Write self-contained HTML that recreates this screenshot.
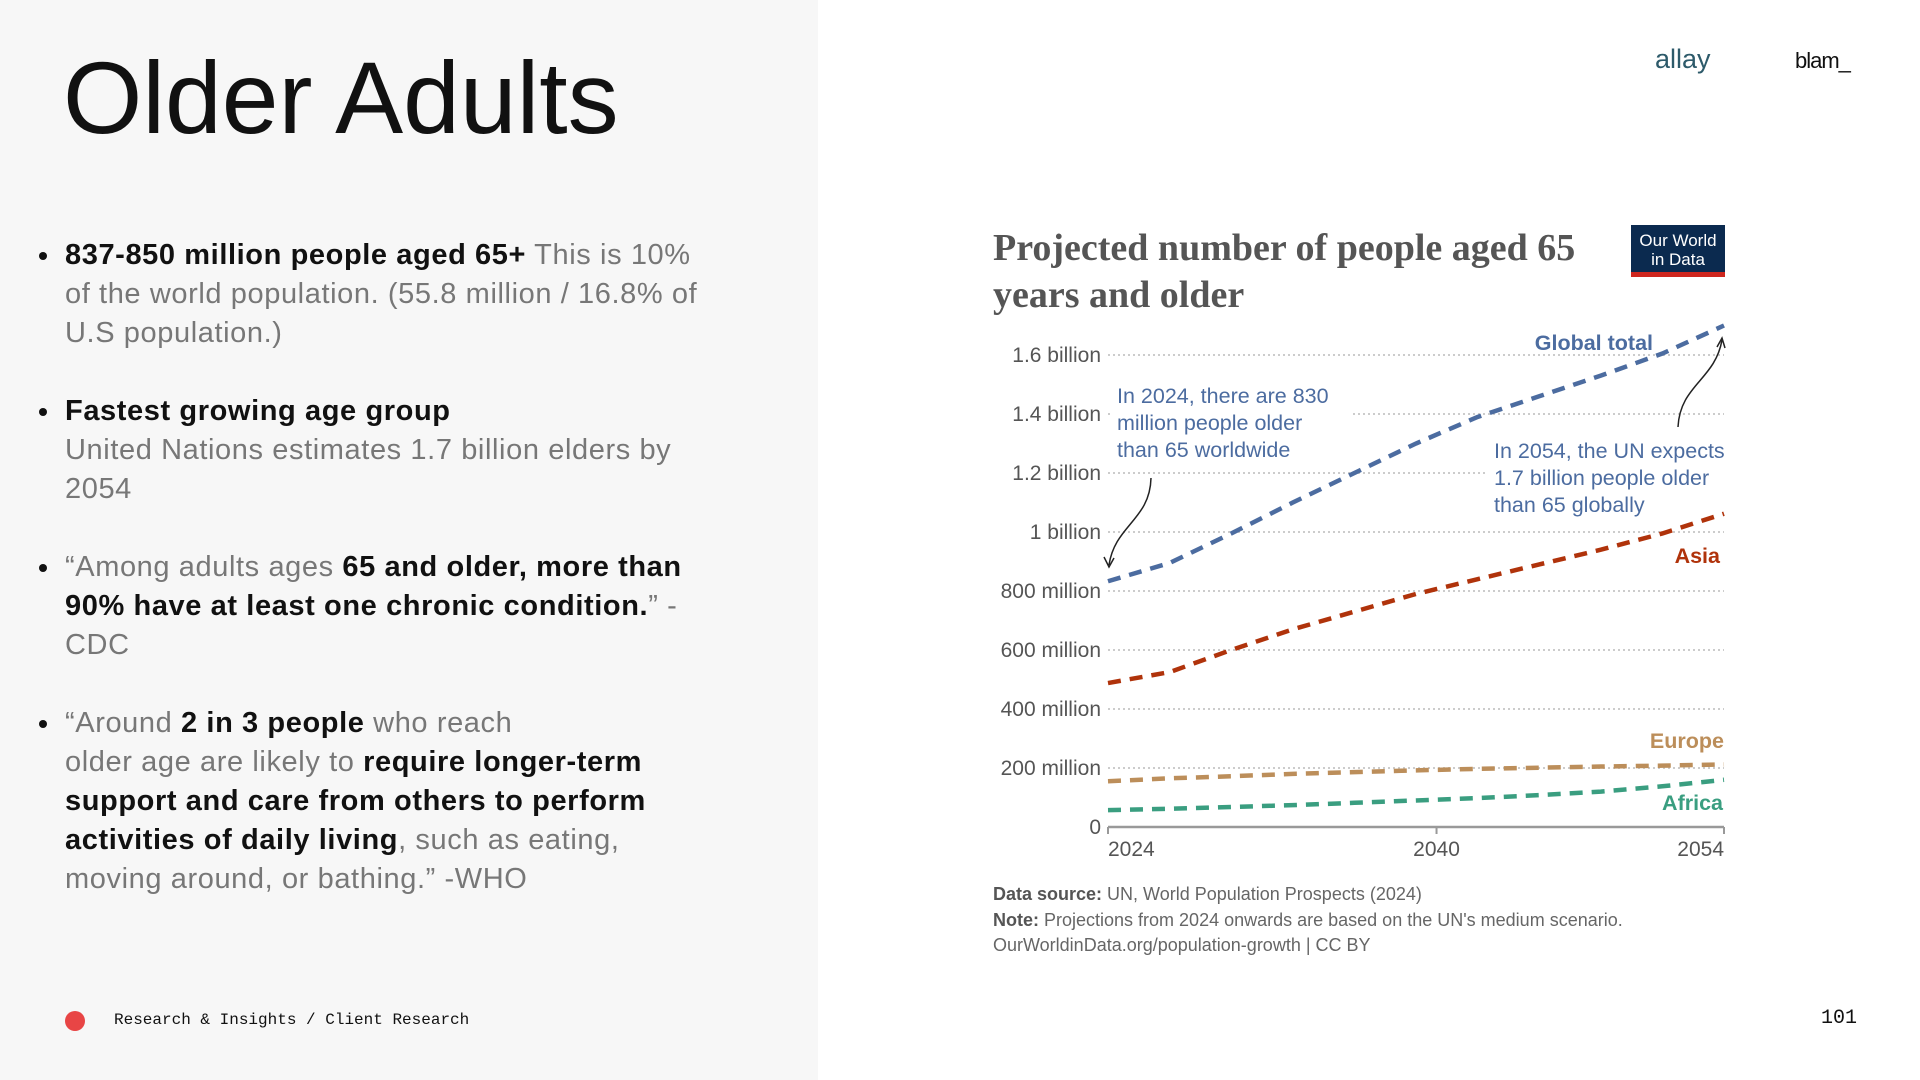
<!DOCTYPE html>
<html><head><meta charset="utf-8">
<style>
body{margin:0;width:1920px;height:1080px;overflow:hidden;background:#fff;font-family:"Liberation Sans",sans-serif;position:relative}
.left{position:absolute;left:0;top:0;width:818px;height:1080px;background:#f7f7f7}
h1{position:absolute;left:63px;top:40px;margin:0;font-size:102px;font-weight:400;color:#111;letter-spacing:0px}
ul{position:absolute;left:65px;top:236px;margin:0;padding:0;list-style:none;width:760px}
li{position:relative;font-size:29px;line-height:39px;color:#777;margin-bottom:39px;letter-spacing:0.6px;white-space:nowrap}
li:before{content:"";position:absolute;left:-26px;top:16px;width:8px;height:8px;border-radius:50%;background:#111}
b{color:#111}
.foot{position:absolute;left:114px;top:1011px;font-family:"Liberation Mono",monospace;font-size:16px;color:#111}
.dot{position:absolute;left:65px;top:1011px;width:20px;height:20px;border-radius:50%;background:#e84545}
.notes{position:absolute;left:993px;top:882px;font-size:18px;line-height:25.5px;color:#666}
</style></head><body>
<div class="left"></div>
<h1>Older Adults</h1>
<ul>
<li><b>837-850 million people aged 65+</b> This is 10%<br>of the world population. (55.8 million / 16.8% of<br>U.S population.)</li>
<li><b>Fastest growing age group</b><br>United Nations estimates 1.7 billion elders by<br>2054</li>
<li>“Among adults ages <b>65 and older, more than</b><br><b>90% have at least one chronic condition.</b>” -<br>CDC</li>
<li>“Around <b>2 in 3 people</b> who reach<br>older age are likely to <b>require longer-term</b><br><b>support and care from others to perform</b><br><b>activities of daily living</b>, such as eating,<br>moving around, or bathing.” -WHO</li>
</ul>
<div class="dot"></div>
<div class="foot">Research &amp; Insights / Client Research</div>
<div style="position:absolute;left:1655px;top:44px;font-size:27px;color:#2d5a6a">allay</div>
<div style="position:absolute;left:1795px;top:48px;font-size:22px;color:#111;letter-spacing:-1px">blam_</div>
<div style="position:absolute;left:1821px;top:1007px;font-family:'Liberation Mono',monospace;font-size:20px;color:#111">101</div>
<svg id="chart" width="1920" height="1080" style="position:absolute;left:0;top:0">
<text x="993" y="260" font-family="Liberation Serif,serif" font-weight="bold" font-size="38" fill="#555">Projected number of people aged 65</text>
<text x="993" y="307" font-family="Liberation Serif,serif" font-weight="bold" font-size="38" fill="#555">years and older</text>
<g><rect x="1631" y="225" width="94" height="48" fill="#0b2a4f"/><rect x="1631" y="272" width="94" height="5" fill="#ce261e"/>
<text x="1678" y="246" text-anchor="middle" font-size="17" fill="#fff">Our World</text><text x="1678" y="265" text-anchor="middle" font-size="17" fill="#fff">in Data</text></g>
<g id="grid"></g>
<rect x="1110" y="378" width="240" height="80" fill="#fff"/>
<rect x="1488" y="432" width="250" height="76" fill="#fff"/>
<g id="lines"></g>
<g id="ann" font-size="21.5" fill="#4c6ca0">
<text x="1117" y="403"><tspan x="1117">In 2024, there are 830</tspan><tspan x="1117" dy="27">million people older</tspan><tspan x="1117" dy="27">than 65 worldwide</tspan></text>
<text x="1494" y="458"><tspan x="1494">In 2054, the UN expects</tspan><tspan x="1494" dy="27">1.7 billion people older</tspan><tspan x="1494" dy="27">than 65 globally</tspan></text>
<path d="M1151,478 C1150,520 1115,525 1109,565" fill="none" stroke="#222" stroke-width="1.5"/>
<path d="M1104,557 L1109,567 L1114,558" fill="none" stroke="#222" stroke-width="1.5"/>
<path d="M1678,427 C1680,385 1715,380 1722,340" fill="none" stroke="#222" stroke-width="1.5"/>
<path d="M1717,347 L1722,338 L1725,348" fill="none" stroke="#222" stroke-width="1.5"/>
</g>
</svg>
<div class="notes"><b style="color:#555">Data source:</b> UN, World Population Prospects (2024)<br><b style="color:#555">Note:</b> Projections from 2024 onwards are based on the UN's medium scenario.<br>OurWorldinData.org/population-growth | CC BY</div>
<script>
const years=[2024,2027,2030,2033,2036,2039,2042,2045,2048,2051,2054];
const globalVals=[833,895,995,1100,1200,1300,1390,1460,1530,1605,1700];
const asiaVals=[488,525,600,670,730,790,840,890,940,995,1062];
const europeVals=[155,165,172,180,186,192,197,201,205,208,212];
const africaVals=[57,62,68,74,82,90,98,108,120,138,160];
const yTicks=[0,200,400,600,800,1000,1200,1400,1600];
const yTickLabels=["0","200 million","400 million","600 million","800 million","1 billion","1.2 billion","1.4 billion","1.6 billion"];
const xTicks=[2024,2040,2054];
const X=y=>1108+(y-2024)/30*616;
const Y=v=>827-v/1600*472;
const NS="http://www.w3.org/2000/svg";
const grid=document.getElementById('grid'),lines=document.getElementById('lines');
function mk(tag,attrs,parent){const e=document.createElementNS(NS,tag);for(const k in attrs)e.setAttribute(k,attrs[k]);parent.appendChild(e);return e;}
yTicks.forEach((t,i)=>{
 if(t>0){const l=mk('line',{x1:1108,x2:1724,y1:Y(t),y2:Y(t),stroke:'#ccc','stroke-width':2,'stroke-dasharray':'2,3'},grid);
 
 }
 const tx=mk('text',{x:1101,y:Y(t)+7,'text-anchor':'end','font-size':21,fill:'#555'},grid);tx.textContent=yTickLabels[i];
 
 
});
const ax=mk('line',{x1:1108,x2:1724,y1:827,y2:827,stroke:'#999','stroke-width':2.5},grid);


xTicks.forEach((t,i)=>{
 mk('line',{x1:X(t),x2:X(t),y1:827,y2:834,stroke:'#999','stroke-width':2},grid);
 const tx=mk('text',{x:X(t),y:856,'text-anchor':i==0?'start':(i==2?'end':'middle'),'font-size':21,fill:'#555'},grid);tx.textContent=t;
 
 
});
function series(vals,color,name){
 const d=vals.map((v,i)=>(i?'L':'M')+X(years[i])+','+Y(v)).join(' ');
 const p=mk('path',{d:d,fill:'none',stroke:color,'stroke-width':4.5,'stroke-dasharray':'13,9'},lines);
 
 
}
series(globalVals,'#4c6ca0','line-global-total');
series(asiaVals,'#b0330b','line-asia');
series(europeVals,'#bc8e5a','line-europe');
series(africaVals,'#3a9e80','line-africa');
function lab(txt,x,y,c,name){const t=mk('text',{x:x,y:y,'text-anchor':'end','font-size':21.5,'font-weight':'bold',fill:c},lines);t.textContent=txt;
 
 }
lab('Global total',1653,350,'#4c6ca0','label-global-total');
lab('Asia',1720,563,'#b0330b','label-asia');
lab('Europe',1724,748,'#bc8e5a','label-europe');
lab('Africa',1723,810,'#3a9e80','label-africa');
</script>
</body></html>
